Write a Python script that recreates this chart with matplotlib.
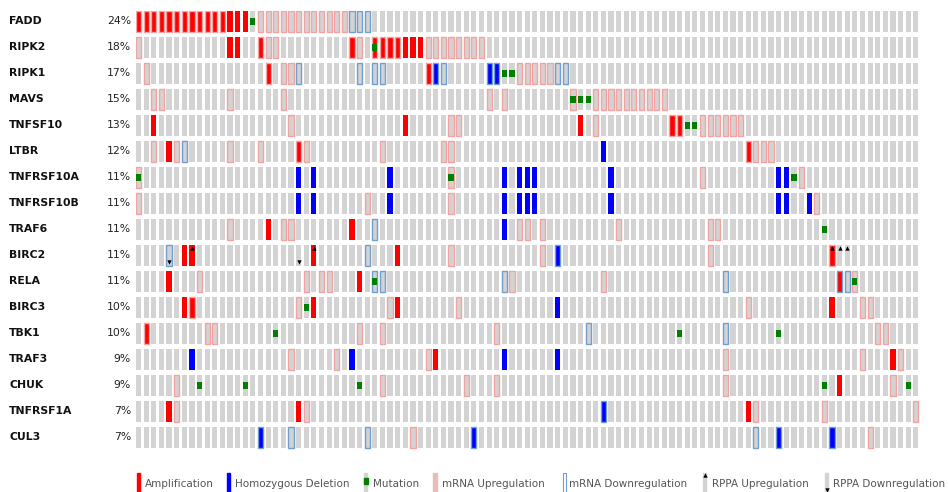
"""OncoPrint-style alteration grid for NF-kB / TNF pathway genes."""

import matplotlib
matplotlib.use("Agg")
import matplotlib.pyplot as plt
from matplotlib.transforms import blended_transform_factory

# --------------------------------------------------------------------------- #
# Data                                                                        #
# --------------------------------------------------------------------------- #
GENES = ["FADD", "RIPK2", "RIPK1", "MAVS", "TNFSF10", "LTBR", "TNFRSF10A",
         "TNFRSF10B", "TRAF6", "BIRC2", "RELA", "BIRC3", "TBK1", "TRAF3",
         "CHUK", "TNFRSF1A", "CUL3"]
PERCENT = [24, 18, 17, 15, 13, 12, 11, 11, 11, 11, 11, 10, 10, 9, 9, 7, 7]
N_SAMPLES = 103  # columns shown (altered samples)

# sample (column) indices carrying each alteration, per gene
AMP = {
    "FADD": [0, 1, 2, 3, 4, 5, 6, 7, 8, 9, 10, 11, 12, 13, 14],
    "RIPK2": [12, 13, 16, 28, 31, 32, 33, 34, 35, 36, 37],
    "RIPK1": [17, 38],
    "TNFSF10": [2, 35, 58, 70, 71],
    "LTBR": [4, 21, 80],
    "TRAF6": [17, 28],
    "BIRC2": [6, 7, 23, 34, 91],
    "RELA": [4, 29, 92],
    "BIRC3": [6, 7, 23, 34, 91],
    "TBK1": [1],
    "TRAF3": [39, 99],
    "CHUK": [92],
    "TNFRSF1A": [4, 21, 80],
}
HOMDEL = {
    "RIPK1": [39, 46, 47],
    "LTBR": [61],
    "TNFRSF10A": [21, 23, 33, 48, 50, 51, 52, 62, 84, 85],
    "TNFRSF10B": [21, 23, 33, 48, 50, 51, 52, 62, 84, 85, 88],
    "TRAF6": [48],
    "BIRC2": [55],
    "BIRC3": [55],
    "TRAF3": [7, 28, 48, 55],
    "TNFRSF1A": [61],
    "CUL3": [16, 44, 84, 91],
}
MUT = {
    "FADD": [15],
    "RIPK2": [31],
    "RIPK1": [48, 49],
    "MAVS": [57, 58, 59],
    "TNFSF10": [72, 73],
    "TNFRSF10A": [0, 41, 86],
    "TRAF6": [90],
    "RELA": [31, 94],
    "BIRC3": [22],
    "TBK1": [18, 71, 84],
    "CHUK": [8, 14, 29, 90, 101],
}
MRNA_UP = {
    "FADD": [0, 1, 2, 3, 4, 5, 6, 7, 8, 9, 10, 11,
             16, 17, 18, 19, 20, 21, 22, 23, 24, 25, 26, 27],
    "RIPK2": [0, 16, 17, 18, 28, 29, 31, 32, 33, 34,
              38, 39, 40, 41, 42, 43, 44, 45],
    "RIPK1": [1, 17, 19, 20, 38, 50, 51, 52, 53, 54],
    "MAVS": [2, 3, 12, 19, 46, 48, 57, 60, 61, 62, 63, 64, 65, 66, 67, 68, 69],
    "TNFSF10": [20, 41, 42, 60, 70, 71, 74, 75, 76, 77, 78, 79],
    "LTBR": [2, 5, 12, 16, 21, 22, 32, 40, 41, 80, 81, 82, 83],
    "TNFRSF10A": [0, 41, 74, 87],
    "TNFRSF10B": [0, 30, 41, 89],
    "TRAF6": [12, 19, 20, 50, 51, 53, 63, 75, 76],
    "BIRC2": [41, 53, 75, 91],
    "RELA": [8, 22, 24, 25, 49, 61, 94],
    "BIRC3": [7, 21, 33, 42, 80, 95, 96],
    "TBK1": [1, 9, 10, 29, 32, 47, 97, 98],
    "TRAF3": [20, 26, 38, 77, 95, 100],
    "CHUK": [5, 32, 43, 47, 77, 99],
    "TNFRSF1A": [5, 22, 81, 90, 102],
    "CUL3": [36, 96],
}
MRNA_DOWN = {
    "FADD": [28, 29, 30],
    "RIPK1": [21, 29, 31, 32, 39, 40, 46, 47, 55, 56],
    "LTBR": [6],
    "TRAF6": [31],
    "BIRC2": [4, 30, 55],
    "RELA": [31, 32, 48, 77, 92, 93],
    "TBK1": [59, 77],
    "TNFRSF1A": [61],
    "CUL3": [16, 20, 30, 44, 81, 84, 91],
}
RPPA_UP = {"BIRC2": [7, 23, 91, 92, 93]}
RPPA_DOWN = {"BIRC2": [4, 21]}

LEGEND_LABELS = ["Amplification", "Homozygous Deletion", "Mutation",
                 "mRNA Upregulation", "mRNA Downregulation",
                 "RPPA Upregulation", "RPPA Downregulation"]

# --------------------------------------------------------------------------- #
# Style                                                                       #
# --------------------------------------------------------------------------- #
GRAY = "#d3d3d3"
RED = "#ff0000"
BLUE = "#0000ff"
GREEN = "#008000"
PINK = "#f4a3a3"
LIGHTBLUE = "#6f9fd0"
CELL_W = 0.68   # fraction of a column pitch
CELL_H = 0.81   # fraction of a row pitch

W, H = 949, 492
fig = plt.figure(figsize=(W / 100, H / 100), dpi=100)
fig.patch.set_facecolor("white")

# grid axes: col 0 left edge at px 136, pitch ~7.62 px; row pitch 26 px
ax = fig.add_axes([136 / W, 1 - (10.7 + 17 * 26) / H,
                   N_SAMPLES * 7.62 / W, 17 * 26 / H])
ax.set_xlim(0, N_SAMPLES)
ax.set_ylim(len(GENES), 0)
ax.axis("off")


def draw_fill(table, color):
    for gene, cols in table.items():
        r = GENES.index(gene)
        ax.bar(cols, [CELL_H] * len(cols), width=CELL_W, bottom=r,
               align="edge", color=color, linewidth=0, zorder=2)


def draw_outline(table, color):
    for gene, cols in table.items():
        r = GENES.index(gene)
        ax.bar(cols, [CELL_H] * len(cols), width=CELL_W, bottom=r,
               align="edge", fill=False, edgecolor=color, linewidth=1.0,
               zorder=3)


# background cells
for r in range(len(GENES)):
    cols = list(range(N_SAMPLES))
    ax.bar(cols, [CELL_H] * N_SAMPLES, width=CELL_W, bottom=r, align="edge",
           color=GRAY, linewidth=0, zorder=1)

draw_fill(AMP, RED)
draw_fill(HOMDEL, BLUE)
draw_outline(MRNA_UP, PINK)
draw_outline(MRNA_DOWN, LIGHTBLUE)

for gene, cols in MUT.items():
    r = GENES.index(gene)
    ax.bar(cols, [CELL_H / 3] * len(cols), width=CELL_W,
           bottom=r + CELL_H / 3, align="edge", color=GREEN, linewidth=0,
           zorder=4)

for gene, cols in RPPA_UP.items():
    r = GENES.index(gene)
    ax.scatter([c + CELL_W / 2 for c in cols], [r + 0.12] * len(cols),
               marker="^", s=10, color="black", linewidths=0, zorder=5)
for gene, cols in RPPA_DOWN.items():
    r = GENES.index(gene)
    ax.scatter([c + CELL_W / 2 for c in cols], [r + CELL_H - 0.14] * len(cols),
               marker="v", s=10, color="black", linewidths=0, zorder=5)

# gene names and percentages
trans = blended_transform_factory(fig.transFigure, ax.transData)
for r, (gene, pct) in enumerate(zip(GENES, PERCENT)):
    ax.text(9 / W, r + CELL_H / 2, gene, transform=trans, ha="left",
            va="center", fontsize=7.8, fontweight="bold", color="#111111")
    ax.text(131 / W, r + CELL_H / 2, f"{pct}%", transform=trans, ha="right",
            va="center", fontsize=7.8, color="#222222")

# --------------------------------------------------------------------------- #
# Legend (pixel coordinates along the bottom strip)                           #
# --------------------------------------------------------------------------- #
lax = fig.add_axes([0, 0, 1, 27 / H])
lax.set_xlim(0, W)
lax.set_ylim(H, H - 27)
lax.axis("off")

swatch_x = [136.7, 226.7, 364.0, 433.5, 563.0, 703.0, 825.0]
text_x = [145.0, 235.0, 373.0, 441.7, 569.0, 711.7, 832.7]
swatch_top, swatch_bot = 473.0, 492.0
sw = 3.4
swatch_style = [
    dict(color=RED),
    dict(color=BLUE),
    dict(color=GRAY),
    dict(color="#e9bcbc"),
    dict(facecolor="white", edgecolor=LIGHTBLUE, linewidth=0.8),
    dict(color=GRAY),
    dict(color=GRAY),
]
for x, tx, label, st in zip(swatch_x, text_x, LEGEND_LABELS, swatch_style):
    lax.add_patch(plt.Rectangle((x, swatch_top), sw, swatch_bot - swatch_top,
                                **st))
    lax.text(tx, 484, label, ha="left", va="center", fontsize=7.5,
             color="#555555")

# legend glyphs on top of the swatches
lax.add_patch(plt.Rectangle((swatch_x[2] - 0.3, 478), sw + 0.6, 5.5,
                            color=GREEN))
lax.scatter([swatch_x[5] + sw / 2], [475], marker="^", s=10, color="black",
            linewidths=0)
lax.scatter([swatch_x[6] + sw / 2], [490], marker="v", s=10, color="black",
            linewidths=0)

fig.savefig("out.png", dpi=100, facecolor="white")
